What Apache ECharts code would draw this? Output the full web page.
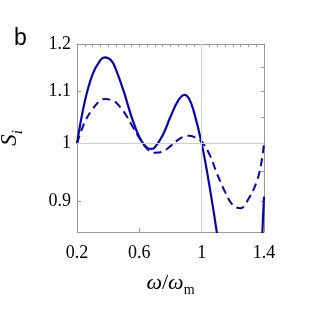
<!DOCTYPE html>
<html>
<head>
<meta charset="utf-8">
<script src="https://cdn.jsdelivr.net/npm/echarts@6/dist/echarts.min.js"></script>
<style>
  html, body { margin: 0; padding: 0; background: #fff; }
  #chart { width: 313px; height: 313px; }
</style>
</head>
<body>
<div id="chart"></div>
<script>
// frequency ratio w/wm
const omega = [0.2, 0.25, 0.3, 0.35, 0.38, 0.42, 0.45, 0.5, 0.55, 0.6, 0.65, 0.68, 0.7, 0.75, 0.8, 0.85, 0.89, 0.92, 0.95, 1.0, 1.05, 1.1, 1.15, 1.2, 1.25, 1.3, 1.35, 1.38, 1.4]
// solid curve
const solidS = [1.0, 1.08, 1.135, 1.165, 1.171, 1.164, 1.145, 1.10, 1.05, 1.012, 0.992, 0.99, 0.993, 1.015, 1.05, 1.082, 1.093, 1.085, 1.06, 1.0, 0.925, 0.845, 0.76, 0.69, 0.64, 0.62, 0.66, 0.80, 0.907]
// dashed curve
const dashedS = [1.0, 1.04, 1.065, 1.082, 1.085, 1.083, 1.078, 1.06, 1.035, 1.01, 0.99, 0.984, 0.983, 0.985, 0.995, 1.007, 1.013, 1.014, 1.012, 1.003, 0.98, 0.945, 0.915, 0.893, 0.888, 0.903, 0.93, 0.96, 1.0]

const xLabels = [0.2, 0.6, 1, 1.4]
const yLabels = [0.9, 1, 1.1, 1.2]
const yMinor = [0.9, 0.95, 1, 1.05, 1.1, 1.15, 1.2]

const blue = '#0505b4'
const grey = '#9a9a9a'
const serif = 'Liberation Serif'

function pairs(ys) {
  return omega.map((x, i) => [x, ys[i]])
}
function fmt(v) {
  return String(parseFloat((+v).toFixed(2)))
}

const option = {
  animation: false,
  title: {
    text: 'b',
    left: 9,
    top: 22,
    textStyle: { fontFamily: 'Liberation Sans', fontSize: 23, fontWeight: 'normal', color: '#000' }
  },
  grid: { left: 77, right: 49, top: 44, bottom: 81, outerBoundsMode: 'none', containLabel: false },
  xAxis: [
    {
      type: 'value',
      min: 0.2,
      max: 1.4,
      interval: 0.4,
      axisLine: { lineStyle: { color: grey, width: 1 } },
      axisTick: { inside: true, length: 4, lineStyle: { color: grey } },
      splitLine: { show: false },
      axisLabel: {
        margin: 12,
        formatter: fmt,
        fontFamily: serif, fontSize: 18, color: '#000',
        customValues: xLabels
      },
      name: '{w|ω}{s|/}{w|ω}{m|m}',
      nameLocation: 'middle',
      nameGap: 40,
      nameTextStyle: {
        rich: {
          w: { fontFamily: serif, fontStyle: 'italic', fontSize: 22, color: '#000' },
          s: { fontFamily: serif, fontSize: 22, color: '#000' },
          m: { fontFamily: serif, fontSize: 14, color: '#000', verticalAlign: 'bottom', padding: [0, 0, -3, 0] }
        }
      }
    },
    {
      type: 'value',
      position: 'top',
      min: 0.2,
      max: 1.4,
      interval: 0.05,
      axisLine: { lineStyle: { color: grey, width: 1 } },
      axisTick: { inside: true, length: 3, lineStyle: { color: grey } },
      axisLabel: { show: false },
      splitLine: { show: false }
    }
  ],
  yAxis: [
    {
      type: 'log',
      min: 0.85,
      max: 1.2,
      axisLine: { show: true, lineStyle: { color: grey, width: 1 } },
      axisTick: { show: true, inside: true, length: 4, lineStyle: { color: grey }, customValues: yLabels },
      splitLine: { show: false },
      minorTick: { show: false },
      axisLabel: {
        margin: 6,
        formatter: fmt,
        fontFamily: serif, fontSize: 18, color: '#000',
        customValues: yLabels
      },
      name: '{s|S}{i|i}',
      nameLocation: 'middle',
      nameGap: 56,
      nameRotate: 90,
      nameTextStyle: {
        rich: {
          s: { fontFamily: serif, fontStyle: 'italic', fontSize: 23, color: '#000' },
          i: { fontFamily: serif, fontStyle: 'italic', fontSize: 15, color: '#000', verticalAlign: 'bottom', padding: [0, 0, -5, 0] }
        }
      }
    },
    {
      type: 'log',
      position: 'right',
      min: 0.85,
      max: 1.2,
      axisLine: { show: true, lineStyle: { color: grey, width: 1 } },
      axisTick: { show: true, inside: true, length: 3, lineStyle: { color: grey }, customValues: yMinor },
      axisLabel: { show: false, customValues: yMinor },
      splitLine: { show: false }
    }
  ],
  series: [
    {
      type: 'line',
      data: pairs(dashedS),
      smooth: 0.4,
      showSymbol: false,
      clip: true,
      lineStyle: { color: blue, width: 2, type: [8, 5] },
      markLine: {
        silent: true,
        symbol: 'none',
        label: { show: false },
        lineStyle: { color: '#cfcfcf', width: 1, type: 'solid' },
        data: [{ xAxis: 1 }, { yAxis: 1 }]
      },
      z: 3
    },
    {
      type: 'line',
      data: pairs(solidS),
      smooth: 0.4,
      showSymbol: false,
      clip: true,
      lineStyle: { color: blue, width: 2.2 },
      z: 4
    }
  ]
};

const chart = echarts.init(document.getElementById('chart'));
chart.setOption(option);
</script>
</body>
</html>
